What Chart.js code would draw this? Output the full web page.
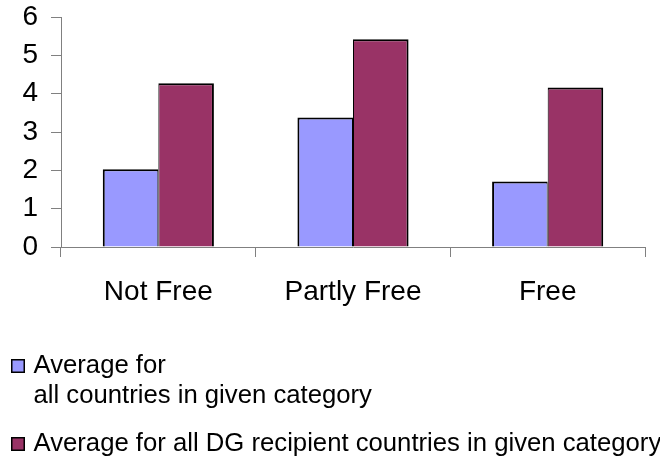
<!DOCTYPE html>
<html>
<head>
<meta charset="utf-8">
<title>Average by freedom category</title>
<script src="https://cdn.jsdelivr.net/npm/chart.js@4/dist/chart.umd.min.js"></script>
<style>
  html, body { margin: 0; padding: 0; background: #ffffff; }
  #wrap { width: 660px; height: 459px; position: relative; }
</style>
</head>
<body>
<div id="wrap"><canvas id="chart" width="660" height="459"></canvas></div>
<script>
// Categories along the x axis
const categories = ['Not Free', 'Partly Free', 'Free'];

// Series values
const allCountries = [2.03, 3.38, 1.71];
const dgRecipients = [4.27, 5.42, 4.16];

// Legend text, one array of lines per series
const seriesLines = [
  ['Average for', 'all countries in given category'],
  ['Average for all DG recipient countries in given category']
];
const seriesColors = ['#9999FF', '#993366'];

// Y axis range
const yMin = 0;
const yMax = 6;
const yStep = 1;

const FONT = '"Liberation Sans", Arial, sans-serif';
const AXIS_GRAY = '#808080';

// Legend drawn below the plot, one entry per dataset
const stackedLegend = {
  id: 'stackedLegend',
  afterDraw(chart) {
    const ctx = chart.ctx;
    const entries = [
      { boxTop: 359, baselines: [372.7, 403.3] },
      { boxTop: 437, baselines: [451] }
    ];
    ctx.save();
    ctx.font = '25.7px ' + FONT;
    ctx.textAlign = 'left';
    ctx.textBaseline = 'alphabetic';
    chart.data.datasets.forEach((ds, i) => {
      const e = entries[i];
      ctx.fillStyle = ds.backgroundColor;
      ctx.fillRect(11, e.boxTop, 14, 14);
      ctx.strokeStyle = '#000000';
      ctx.lineWidth = 1.5;
      ctx.strokeRect(11.75, e.boxTop + 0.75, 12.5, 12.5);
      ctx.fillStyle = '#000000';
      seriesLines[i].forEach((line, j) => {
        ctx.fillText(line, 33.5, e.baselines[j]);
      });
    });
    ctx.restore();
  }
};

new Chart(document.getElementById('chart'), {
  type: 'bar',
  data: {
    labels: categories,
    datasets: [
      {
        label: seriesLines[0].join(' '),
        data: allCountries,
        backgroundColor: seriesColors[0],
        borderColor: '#000000',
        borderWidth: { top: 2, left: 2, right: 1, bottom: 0 },
        borderSkipped: false
      },
      {
        label: seriesLines[1].join(' '),
        data: dgRecipients,
        backgroundColor: seriesColors[1],
        borderColor: '#000000',
        borderWidth: { top: 2, left: 1, right: 2, bottom: 0 },
        borderSkipped: false
      }
    ]
  },
  options: {
    responsive: false,
    animation: false,
    devicePixelRatio: 1,
    datasets: {
      bar: { barPercentage: 1.0, categoryPercentage: 0.571 }
    },
    layout: { padding: { left: 0, right: 15, top: 17, bottom: 152 } },
    plugins: {
      legend: { display: false },
      tooltip: { enabled: false },
      title: { display: false }
    },
    scales: {
      x: {
        offset: true,
        grid: {
          offset: true,
          drawOnChartArea: false,
          drawTicks: true,
          tickLength: 10,
          color: AXIS_GRAY,
          lineWidth: 1
        },
        border: { display: true, color: AXIS_GRAY, width: 1 },
        ticks: {
          color: '#000000',
          font: { family: FONT, size: 28 },
          padding: 18,
          maxRotation: 0,
          autoSkip: false
        },
        afterFit(scale) {
          scale.height = 60;
          scale.paddingLeft = 0;
          scale.paddingRight = 0;
        }
      },
      y: {
        min: yMin,
        max: yMax,
        grid: {
          drawOnChartArea: false,
          drawTicks: true,
          tickLength: 10,
          color: AXIS_GRAY,
          lineWidth: 1
        },
        border: { display: true, color: AXIS_GRAY, width: 1 },
        ticks: {
          stepSize: yStep,
          autoSkip: false,
          color: '#000000',
          font: { family: FONT, size: 28 },
          padding: 13
        },
        afterFit(scale) {
          scale.width = 61;
          scale.paddingTop = 0;
          scale.paddingBottom = 0;
        }
      }
    }
  },
  plugins: [stackedLegend]
});
</script>
</body>
</html>
